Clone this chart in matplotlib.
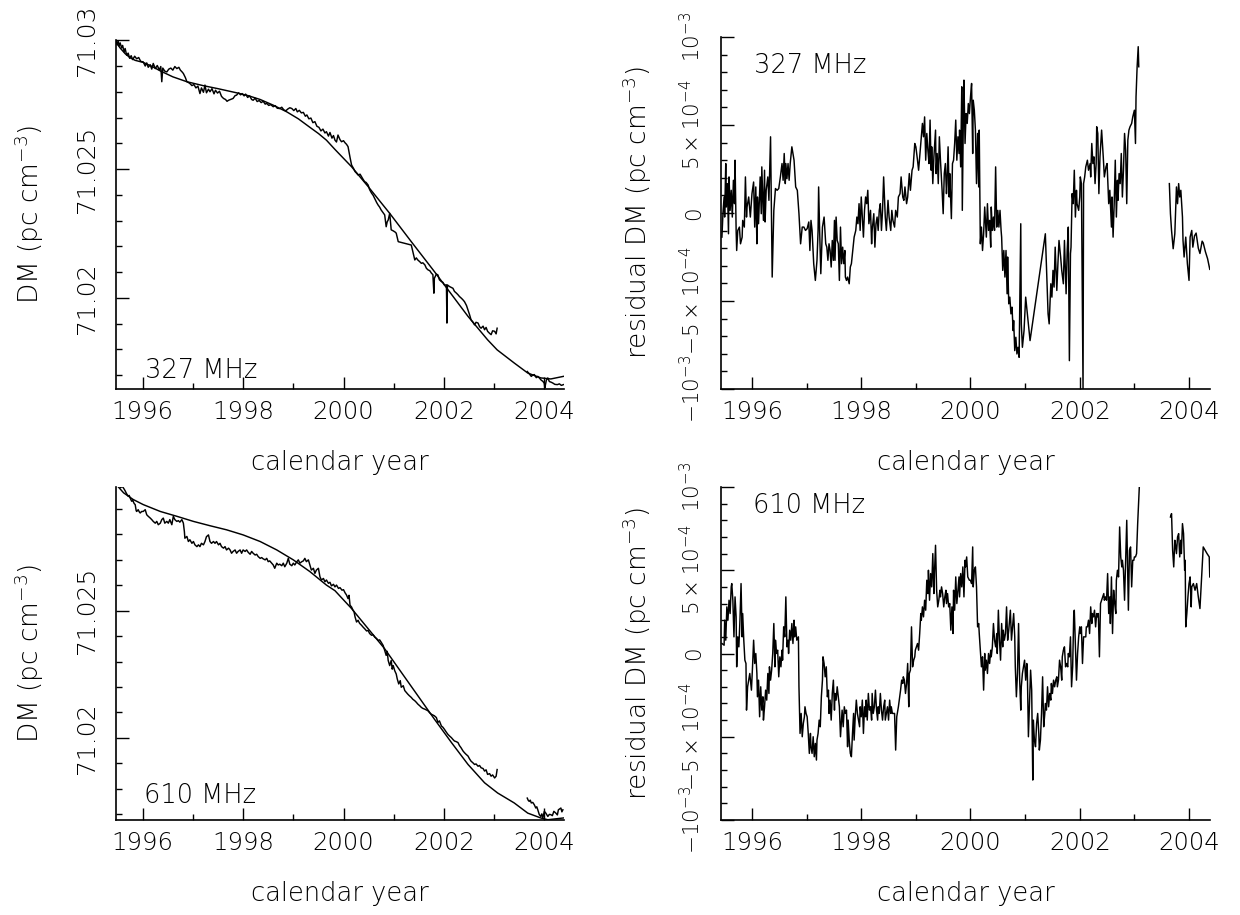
import matplotlib
matplotlib.use('Agg')
import matplotlib.pyplot as plt
from matplotlib.ticker import MultipleLocator, FixedLocator, FixedFormatter, FuncFormatter
import numpy as np

plt.rcParams['font.family'] = ['DejaVu Sans']
plt.rcParams['font.weight'] = 'light'
plt.rcParams['mathtext.fontset'] = 'custom'
plt.rcParams['mathtext.rm'] = 'DejaVu Sans:light'
plt.rcParams['mathtext.it'] = 'DejaVu Sans:light'

### DM values are stored as (DM - 71.0) in units of 1e-3 pc cm^-3
dm_base = 71.0
### residuals are stored in units of 1e-4 pc cm^-3

# 327 MHz DM (year, DM offset)
dm327 = [
    (1995.47, 30.00), (1995.49, 29.82), (1995.51, 29.97), (1995.53, 29.78), (1995.55, 29.90),
    (1995.58, 29.70), (1995.60, 29.80), (1995.63, 29.55), (1995.65, 29.68), (1995.68, 29.42),
    (1995.71, 29.50), (1995.74, 29.30), (1995.77, 29.40), (1995.80, 29.25), (1995.84, 29.38),
    (1995.88, 29.28), (1995.92, 29.33), (1995.96, 29.18), (1996.01, 29.16), (1996.05, 29.00),
    (1996.08, 29.12), (1996.11, 28.95), (1996.15, 29.05), (1996.18, 28.88), (1996.21, 29.10),
    (1996.25, 28.90), (1996.29, 29.02), (1996.33, 28.85), (1996.36, 28.98), (1996.38, 28.39),
    (1996.40, 28.92), (1996.44, 28.80), (1996.48, 28.77), (1996.52, 28.88), (1996.56, 28.92),
    (1996.60, 28.84), (1996.64, 28.98), (1996.68, 28.90), (1996.72, 28.95), (1996.75, 28.84),
    (1996.78, 28.78), (1996.81, 28.71), (1996.85, 28.55), (1996.88, 28.39), (1996.91, 28.36),
    (1996.94, 28.32), (1996.98, 28.24), (1997.02, 28.28), (1997.06, 28.15), (1997.10, 28.22),
    (1997.14, 27.93), (1997.17, 28.15), (1997.21, 27.98), (1997.24, 28.26), (1997.27, 27.96),
    (1997.31, 28.10), (1997.34, 28.00), (1997.38, 28.12), (1997.42, 27.92), (1997.45, 28.06),
    (1997.49, 27.95), (1997.53, 28.02), (1997.57, 27.82), (1997.61, 27.74), (1997.65, 27.70),
    (1997.68, 27.63), (1997.71, 27.67), (1997.75, 27.70), (1997.80, 27.74), (1997.84, 27.85),
    (1997.87, 27.87), (1997.91, 27.96), (1997.95, 27.88), (1997.98, 27.93), (1998.02, 27.84),
    (1998.05, 27.91), (1998.09, 27.78), (1998.13, 27.84), (1998.17, 27.70), (1998.20, 27.67),
    (1998.24, 27.75), (1998.28, 27.62), (1998.32, 27.66), (1998.36, 27.58), (1998.40, 27.63),
    (1998.44, 27.52), (1998.47, 27.55), (1998.51, 27.47), (1998.55, 27.50), (1998.60, 27.42),
    (1998.64, 27.46), (1998.68, 27.36), (1998.73, 27.35), (1998.77, 27.40), (1998.81, 27.30),
    (1998.85, 27.26), (1998.89, 27.33), (1998.93, 27.38), (1998.97, 27.35), (1999.01, 27.27),
    (1999.05, 27.35), (1999.08, 27.22), (1999.12, 27.28), (1999.16, 27.18), (1999.20, 27.20),
    (1999.24, 27.05), (1999.27, 27.10), (1999.31, 26.95), (1999.35, 26.98), (1999.39, 26.80),
    (1999.43, 26.84), (1999.47, 26.66), (1999.51, 26.62), (1999.55, 26.48), (1999.59, 26.55),
    (1999.63, 26.40), (1999.66, 26.45), (1999.70, 26.28), (1999.73, 26.42), (1999.77, 26.20),
    (1999.80, 26.30), (1999.83, 26.12), (1999.86, 26.05), (1999.89, 26.32), (1999.93, 26.14),
    (1999.96, 26.06), (2000.00, 26.10), (2000.03, 26.02), (2000.06, 25.96), (2000.09, 25.87),
    (2000.13, 25.45), (2000.16, 25.16), (2000.20, 25.02), (2000.23, 24.90), (2000.26, 24.84),
    (2000.29, 24.77), (2000.33, 24.80), (2000.36, 24.70), (2000.39, 24.60), (2000.42, 24.51),
    (2000.45, 24.48), (2000.49, 24.38), (2000.52, 24.20), (2000.56, 24.06), (2000.59, 23.98),
    (2000.62, 23.86), (2000.66, 23.70), (2000.69, 23.60), (2000.72, 23.52), (2000.75, 23.41),
    (2000.79, 23.30), (2000.82, 23.22), (2000.85, 22.76), (2000.87, 22.95), (2000.89, 23.02),
    (2000.92, 23.28), (2000.95, 22.64), (2000.99, 22.60), (2001.03, 22.55), (2001.05, 22.51),
    (2001.09, 22.18), (2001.35, 22.05), (2001.42, 21.47), (2001.45, 21.55), (2001.48, 21.47),
    (2001.52, 21.40), (2001.55, 21.34), (2001.58, 21.36), (2001.62, 21.28), (2001.65, 21.15),
    (2001.68, 21.09), (2001.72, 21.05), (2001.75, 20.96), (2001.78, 20.90), (2001.80, 20.18),
    (2001.81, 20.76), (2001.85, 20.92), (2001.88, 20.89), (2001.91, 20.70), (2001.95, 20.63),
    (2001.98, 20.60), (2002.01, 20.50), (2002.05, 20.50), (2002.06, 19.02), (2002.07, 20.50),
    (2002.11, 20.44), (2002.15, 20.40), (2002.18, 20.37), (2002.21, 20.25), (2002.25, 20.18),
    (2002.28, 20.12), (2002.31, 20.05), (2002.35, 19.98), (2002.38, 19.92), (2002.41, 19.85),
    (2002.45, 19.70), (2002.48, 19.53), (2002.51, 19.35), (2002.54, 19.15), (2002.58, 19.05),
    (2002.61, 18.95), (2002.64, 19.05), (2002.68, 19.02), (2002.71, 18.88), (2002.74, 18.82),
    (2002.78, 18.90), (2002.81, 18.76), (2002.84, 18.85), (2002.87, 18.70), (2002.91, 18.62),
    (2002.94, 18.57), (2002.97, 18.72), (2003.01, 18.70), (2003.04, 18.60), (2003.06, 18.82),
]
dm327_late = [
    (2003.66, 17.14), (2003.70, 17.05), (2003.74, 16.95), (2003.77, 17.00), (2003.80, 17.02),
    (2003.84, 16.90), (2003.87, 16.95), (2003.90, 16.89), (2003.94, 16.80), (2003.97, 16.76),
    (2004.00, 16.68), (2004.01, 16.50), (2004.04, 16.80), (2004.07, 16.89), (2004.10, 16.75),
    (2004.14, 16.72), (2004.17, 16.69), (2004.21, 16.64), (2004.26, 16.63), (2004.30, 16.66),
    (2004.34, 16.60), (2004.38, 16.63),
]
fit327 = [
    (1995.47, 29.92), (1995.55, 29.70), (1995.65, 29.48), (1995.75, 29.32), (1995.85, 29.22),
    (1996.01, 29.14), (1996.20, 28.97), (1996.35, 28.81), (1996.60, 28.58), (1996.88, 28.39),
    (1997.20, 28.24), (1997.50, 28.12), (1997.87, 27.96), (1998.10, 27.85), (1998.34, 27.70),
    (1998.60, 27.48), (1998.87, 27.22), (1999.10, 26.95), (1999.33, 26.62), (1999.50, 26.38),
    (1999.66, 26.12), (1999.83, 25.76), (2000.16, 25.09), (2000.49, 24.32), (2000.92, 23.28),
    (2001.35, 22.18), (2001.81, 21.02), (2002.01, 20.50), (2002.48, 19.28), (2002.87, 18.37),
    (2003.06, 17.98), (2003.40, 17.47), (2003.67, 17.08), (2003.93, 16.89), (2004.13, 16.85),
    (2004.38, 16.95),
]

# 610 MHz DM (year, DM offset)
dm610 = [
    (1995.47, 29.88), (1995.50, 29.95), (1995.52, 29.92), (1995.56, 29.82), (1995.59, 29.88),
    (1995.62, 29.80), (1995.65, 29.70), (1995.67, 29.62), (1995.69, 29.55), (1995.71, 29.49),
    (1995.73, 29.52), (1995.75, 29.42), (1995.78, 29.29), (1995.80, 29.35), (1995.81, 29.29),
    (1995.83, 29.20), (1995.85, 29.16), (1995.87, 28.92), (1995.88, 28.89), (1995.91, 28.96),
    (1995.93, 28.88), (1995.95, 28.83), (1995.98, 28.89), (1996.01, 28.89), (1996.05, 28.96),
    (1996.08, 28.76), (1996.11, 28.70), (1996.15, 28.63), (1996.18, 28.57), (1996.21, 28.50),
    (1996.25, 28.43), (1996.28, 28.50), (1996.31, 28.37), (1996.35, 28.43), (1996.38, 28.57),
    (1996.41, 28.63), (1996.44, 28.43), (1996.48, 28.50), (1996.51, 28.43), (1996.54, 28.57),
    (1996.58, 28.37), (1996.61, 28.70), (1996.64, 28.57), (1996.68, 28.50), (1996.71, 28.53),
    (1996.74, 28.47), (1996.78, 28.57), (1996.81, 28.43), (1996.83, 28.10), (1996.84, 27.84),
    (1996.88, 27.91), (1996.91, 27.71), (1996.94, 27.78), (1996.98, 27.64), (1997.01, 27.71),
    (1997.04, 27.58), (1997.08, 27.51), (1997.11, 27.58), (1997.14, 27.51), (1997.17, 27.64),
    (1997.21, 27.58), (1997.24, 27.71), (1997.27, 27.90), (1997.31, 27.97), (1997.34, 27.71),
    (1997.37, 27.64), (1997.41, 27.71), (1997.44, 27.64), (1997.47, 27.71), (1997.51, 27.58),
    (1997.54, 27.64), (1997.57, 27.51), (1997.61, 27.45), (1997.64, 27.51), (1997.67, 27.38),
    (1997.71, 27.45), (1997.74, 27.38), (1997.77, 27.25), (1997.80, 27.32), (1997.84, 27.38),
    (1997.87, 27.25), (1997.90, 27.32), (1997.94, 27.38), (1997.97, 27.25), (1998.00, 27.38),
    (1998.04, 27.32), (1998.07, 27.38), (1998.10, 27.29), (1998.14, 27.21), (1998.17, 27.32),
    (1998.20, 27.25), (1998.24, 27.18), (1998.27, 27.21), (1998.30, 27.12), (1998.34, 27.05),
    (1998.37, 27.08), (1998.40, 27.03), (1998.44, 26.99), (1998.47, 27.05), (1998.50, 26.92),
    (1998.53, 26.95), (1998.57, 26.86), (1998.60, 26.79), (1998.63, 26.66), (1998.67, 26.86),
    (1998.70, 26.79), (1998.73, 26.82), (1998.77, 26.76), (1998.80, 26.86), (1998.83, 26.72),
    (1998.87, 26.86), (1998.90, 27.05), (1998.93, 26.82), (1998.97, 26.76), (1999.00, 26.86),
    (1999.03, 26.79), (1999.07, 26.92), (1999.10, 26.99), (1999.13, 26.86), (1999.17, 26.92),
    (1999.20, 26.95), (1999.23, 27.05), (1999.26, 26.92), (1999.30, 26.99), (1999.33, 26.79),
    (1999.36, 26.59), (1999.40, 26.66), (1999.43, 26.46), (1999.46, 26.59), (1999.50, 26.66),
    (1999.53, 26.33), (1999.56, 26.20), (1999.60, 26.26), (1999.63, 26.13), (1999.66, 26.20),
    (1999.70, 26.07), (1999.73, 26.11), (1999.76, 25.97), (1999.80, 26.03), (1999.83, 25.93),
    (1999.86, 26.00), (1999.90, 25.87), (1999.93, 25.90), (1999.97, 25.80), (2000.00, 25.82),
    (2000.03, 25.70), (2000.06, 25.61), (2000.09, 25.47), (2000.11, 25.60), (2000.13, 25.21),
    (2000.16, 25.14), (2000.19, 25.01), (2000.21, 24.95), (2000.23, 24.75), (2000.26, 24.55),
    (2000.29, 24.62), (2000.32, 24.50), (2000.36, 24.42), (2000.39, 24.35), (2000.42, 24.29),
    (2000.46, 24.20), (2000.49, 24.22), (2000.52, 24.10), (2000.56, 24.03), (2000.59, 24.05),
    (2000.62, 23.96), (2000.66, 23.90), (2000.69, 23.83), (2000.72, 23.85), (2000.75, 23.76),
    (2000.79, 23.63), (2000.82, 23.43), (2000.85, 23.24), (2000.87, 23.40), (2000.89, 23.04),
    (2000.92, 22.84), (2000.95, 23.04), (2000.97, 22.70), (2000.99, 22.84), (2001.02, 22.64),
    (2001.05, 22.51), (2001.07, 22.32), (2001.10, 22.12), (2001.13, 22.25), (2001.15, 21.99),
    (2001.19, 22.05), (2001.22, 21.86), (2001.25, 21.79), (2001.28, 21.72), (2001.31, 21.66),
    (2001.35, 21.59), (2001.38, 21.52), (2001.42, 21.46), (2001.45, 21.40), (2001.48, 21.33),
    (2001.52, 21.26), (2001.55, 21.20), (2001.58, 21.16), (2001.62, 21.13), (2001.65, 21.10),
    (2001.68, 21.07), (2001.72, 20.98), (2001.75, 20.93), (2001.78, 20.90), (2001.81, 20.87),
    (2001.85, 20.80), (2001.88, 20.61), (2001.91, 20.67), (2001.95, 20.47), (2001.98, 20.42),
    (2002.01, 20.34), (2002.04, 20.25), (2002.08, 20.14), (2002.11, 20.08), (2002.15, 20.01),
    (2002.18, 19.94), (2002.21, 19.88), (2002.24, 19.86), (2002.28, 19.82), (2002.31, 19.70),
    (2002.34, 19.62), (2002.38, 19.49), (2002.41, 19.42), (2002.44, 19.36), (2002.48, 19.29),
    (2002.51, 19.18), (2002.54, 19.09), (2002.58, 19.02), (2002.61, 18.96), (2002.64, 18.98),
    (2002.68, 18.89), (2002.71, 18.92), (2002.74, 18.83), (2002.78, 18.80), (2002.81, 18.70),
    (2002.84, 18.75), (2002.87, 18.57), (2002.91, 18.60), (2002.94, 18.50), (2002.97, 18.55),
    (2003.01, 18.43), (2003.04, 18.50), (2003.06, 18.76),
]
dm610_late = [
    (2003.66, 17.64), (2003.68, 17.55), (2003.70, 17.51), (2003.72, 17.56), (2003.74, 17.45),
    (2003.77, 17.47), (2003.80, 17.38), (2003.83, 17.25), (2003.85, 17.30), (2003.87, 17.18),
    (2003.90, 16.99), (2003.93, 16.92), (2003.95, 17.02), (2003.97, 16.86), (2004.00, 17.12),
    (2004.03, 17.05), (2004.07, 16.92), (2004.10, 17.00), (2004.13, 16.99), (2004.16, 16.95),
    (2004.19, 17.12), (2004.23, 17.05), (2004.26, 16.98), (2004.28, 17.18), (2004.33, 17.25),
    (2004.35, 17.10), (2004.37, 17.18),
]
fit610 = [
    (1995.47, 29.95), (1995.62, 29.62), (1995.81, 29.36), (1996.01, 29.16), (1996.35, 28.89),
    (1996.68, 28.70), (1997.01, 28.50), (1997.34, 28.33), (1997.67, 28.17), (1998.00, 27.97),
    (1998.34, 27.71), (1998.67, 27.38), (1999.00, 26.99), (1999.33, 26.53), (1999.66, 26.00),
    (1999.83, 25.78), (2000.16, 25.08), (2000.49, 24.29), (2000.82, 23.50), (2001.15, 22.58),
    (2001.48, 21.66), (2001.81, 20.74), (2002.15, 19.82), (2002.48, 18.96), (2002.81, 18.24),
    (2003.07, 17.84), (2003.40, 17.45), (2003.67, 17.05), (2003.93, 16.86), (2004.07, 16.79),
    (2004.38, 16.86),
]

# 327 MHz residual DM (year, residual in 1e-4)
res327 = [
    (1995.45, -1.37), (1995.47, 0.06), (1995.49, 0.91), (1995.50, -0.23), (1995.52, 2.81),
    (1995.53, 0.34), (1995.55, 1.67), (1995.57, -1.18), (1995.58, 2.05), (1995.60, 0.15),
    (1995.62, 1.29), (1995.64, -0.23), (1995.66, 1.86), (1995.68, 0.53), (1995.69, 3.00),
    (1995.71, -0.99), (1995.72, -2.13), (1995.74, -0.99), (1995.77, -0.80), (1995.79, -1.75),
    (1995.82, -1.37), (1995.83, -0.42), (1995.86, -0.80), (1995.88, 2.05), (1995.90, -0.23),
    (1995.91, 0.34), (1995.94, 0.91), (1995.97, -0.23), (1996.00, 1.10), (1996.03, 1.76),
    (1996.05, -0.80), (1996.07, 1.48), (1996.09, -1.75), (1996.10, 0.91), (1996.12, -0.61),
    (1996.15, 2.05), (1996.17, -0.04), (1996.18, 2.62), (1996.21, -0.42), (1996.23, 2.43),
    (1996.24, -0.51), (1996.26, 1.29), (1996.29, 2.05), (1996.31, 0.72), (1996.34, 4.33),
    (1996.37, -3.64), (1996.40, 0.15), (1996.43, 1.39), (1996.46, 1.29), (1996.49, 1.39),
    (1996.52, 2.05), (1996.55, 2.81), (1996.57, 1.86), (1996.59, 3.38), (1996.61, 1.67),
    (1996.62, 2.81), (1996.64, 1.95), (1996.66, 2.81), (1996.68, 1.86), (1996.70, 2.81),
    (1996.73, 3.76), (1996.77, 3.00), (1996.80, 1.48), (1996.83, 1.29), (1996.86, -0.04),
    (1996.89, -1.75), (1996.92, -0.80), (1996.95, -0.80), (1996.98, -0.99), (1997.01, -0.89),
    (1997.04, -0.51), (1997.06, -2.13), (1997.08, -0.42), (1997.10, -0.99), (1997.13, -2.88),
    (1997.16, -3.83), (1997.19, -2.69), (1997.21, -0.99), (1997.22, 1.48), (1997.24, -1.18),
    (1997.26, -3.45), (1997.29, -0.80), (1997.32, -0.23), (1997.35, -1.75), (1997.37, -1.94),
    (1997.39, -2.69), (1997.41, -1.75), (1997.43, -2.13), (1997.45, -3.07), (1997.47, -1.56),
    (1997.49, -2.69), (1997.51, -0.42), (1997.52, -2.69), (1997.54, -0.23), (1997.56, -1.56),
    (1997.58, -1.75), (1997.60, -3.83), (1997.62, -0.80), (1997.64, -2.88), (1997.66, -1.94),
    (1997.68, -2.88), (1997.70, -2.13), (1997.71, -3.64), (1997.73, -3.83), (1997.75, -3.64),
    (1997.78, -4.02), (1997.80, -3.07), (1997.82, -2.88), (1997.85, -1.94), (1997.87, -1.37),
    (1997.90, -0.99), (1997.92, -0.23), (1997.94, -0.61), (1997.96, 0.53), (1997.98, -0.99),
    (1998.00, 0.91), (1998.02, -0.23), (1998.04, -1.37), (1998.06, 0.15), (1998.08, 0.91),
    (1998.10, 0.53), (1998.12, 1.29), (1998.14, -0.61), (1998.17, 0.15), (1998.19, -1.75),
    (1998.20, -0.99), (1998.23, -0.04), (1998.25, -1.94), (1998.27, -0.61), (1998.29, -0.23),
    (1998.31, -0.99), (1998.33, 0.15), (1998.35, 0.53), (1998.37, -0.99), (1998.39, 0.15),
    (1998.41, 2.05), (1998.44, -0.23), (1998.46, -0.99), (1998.49, 0.72), (1998.51, -0.23),
    (1998.54, -0.99), (1998.56, 0.15), (1998.58, -0.42), (1998.61, -0.80), (1998.63, 0.15),
    (1998.66, -0.23), (1998.68, 0.91), (1998.71, 1.10), (1998.73, 2.05), (1998.76, 0.91),
    (1998.78, 0.72), (1998.80, 1.48), (1998.83, 0.53), (1998.85, 0.91), (1998.88, 2.24),
    (1998.90, 1.29), (1998.93, 2.43), (1998.95, 2.62), (1998.98, 3.95), (1999.00, 3.76),
    (1999.03, 3.00), (1999.05, 2.43), (1999.07, 3.19), (1999.10, 4.33), (1999.12, 5.09),
    (1999.14, 4.33), (1999.16, 5.46), (1999.18, 3.00), (1999.20, 4.52), (1999.22, 3.57),
    (1999.24, 2.81), (1999.26, 5.28), (1999.28, 2.43), (1999.29, 3.76), (1999.31, 1.67),
    (1999.33, 3.19), (1999.36, 4.71), (1999.37, 2.24), (1999.39, 3.38), (1999.41, 1.67),
    (1999.43, 4.33), (1999.45, 3.00), (1999.48, 1.29), (1999.50, -0.04), (1999.52, 2.24),
    (1999.54, 2.81), (1999.56, 1.10), (1999.57, 1.67), (1999.59, 3.76), (1999.61, 0.91),
    (1999.62, 2.24), (1999.65, -0.32), (1999.67, 2.81), (1999.69, 3.00), (1999.71, 3.95),
    (1999.73, 5.28), (1999.75, 3.00), (1999.77, 4.33), (1999.79, 3.38), (1999.80, 4.71),
    (1999.82, 2.62), (1999.84, 7.17), (1999.85, 0.15), (1999.87, 5.65), (1999.88, 7.55),
    (1999.90, 3.95), (1999.92, 5.65), (1999.94, 5.09), (1999.96, 6.22), (1999.98, 5.65),
    (2000.00, 6.60), (2000.02, 7.36), (2000.04, 3.38), (2000.05, 6.41), (2000.07, 5.84),
    (2000.09, 4.71), (2000.11, 1.67), (2000.13, 4.52), (2000.15, 1.48), (2000.16, 4.71),
    (2000.18, -1.75), (2000.20, -0.80), (2000.22, -2.13), (2000.24, -1.18), (2000.26, 0.34),
    (2000.27, -0.23), (2000.29, -1.37), (2000.31, 0.53), (2000.33, -0.99), (2000.35, -0.42),
    (2000.37, -1.94), (2000.38, 0.34), (2000.40, -0.99), (2000.42, -0.23), (2000.44, -0.99),
    (2000.46, 2.62), (2000.48, -0.80), (2000.50, 0.15), (2000.52, -0.80), (2000.54, 0.15),
    (2000.56, -0.99), (2000.57, -1.37), (2000.59, -3.26), (2000.61, -2.13), (2000.63, -3.64),
    (2000.65, -2.13), (2000.67, -4.59), (2000.68, -2.50), (2000.70, -5.16), (2000.72, -4.78),
    (2000.74, -5.73), (2000.76, -5.35), (2000.78, -6.68), (2000.79, -6.11), (2000.81, -7.82),
    (2000.83, -7.06), (2000.85, -8.01), (2000.87, -7.63), (2000.89, -8.20), (2000.90, -5.73),
    (2000.92, -0.61), (2000.93, -6.30), (2000.95, -7.63), (2000.98, -6.68), (2001.01, -4.78),
    (2001.09, -7.25), (2001.37, -1.18), (2001.42, -5.73), (2001.44, -6.30), (2001.47, -4.02),
    (2001.49, -4.78), (2001.51, -3.26), (2001.53, -4.21), (2001.55, -1.94), (2001.58, -4.40),
    (2001.60, -2.88), (2001.62, -1.56), (2001.65, -2.50), (2001.67, -3.26), (2001.70, -4.02),
    (2001.72, -1.56), (2001.75, -4.59), (2001.77, -2.13), (2001.79, -0.80), (2001.81, -8.39),
    (2001.83, -2.31), (2001.84, -1.94), (2001.86, 1.10), (2001.88, 0.53), (2001.90, 2.43),
    (2001.92, -0.23), (2001.94, 1.29), (2001.95, 0.53), (2001.98, 0.15), (2002.00, 0.91),
    (2002.01, 2.05), (2002.03, 1.67), (2002.06, -10.0), (2002.07, 1.67), (2002.09, 2.05),
    (2002.11, 2.62), (2002.14, 3.00), (2002.16, 2.43), (2002.19, 2.81), (2002.20, 2.05),
    (2002.22, 3.95), (2002.24, 2.81), (2002.26, 3.19), (2002.28, 1.67), (2002.30, 2.81),
    (2002.31, 4.90), (2002.33, 4.52), (2002.35, 1.10), (2002.37, 3.19), (2002.40, 4.71),
    (2002.43, 3.19), (2002.45, 2.05), (2002.48, 2.62), (2002.50, 2.81), (2002.53, 0.53),
    (2002.55, 1.29), (2002.58, -0.80), (2002.59, 0.91), (2002.61, -1.37), (2002.63, 0.53),
    (2002.65, 3.00), (2002.67, -0.23), (2002.69, 1.86), (2002.70, 0.72), (2002.72, 2.24),
    (2002.74, 1.67), (2002.76, 3.38), (2002.78, 0.91), (2002.80, 2.43), (2002.82, 4.52),
    (2002.84, 3.57), (2002.86, 0.53), (2002.88, 4.14), (2002.90, 4.71), (2002.92, 4.90),
    (2002.95, 5.09), (2002.97, 5.46), (2003.00, 5.84), (2003.02, 3.95), (2003.03, 6.60),
    (2003.05, 8.31), (2003.07, 9.45), (2003.08, 8.31),
]
res327_late = [
    (2003.64, 1.67), (2003.66, -0.04), (2003.68, -0.99), (2003.71, -2.03), (2003.74, -1.18),
    (2003.77, 1.48), (2003.79, 0.53), (2003.81, 1.67), (2003.83, 0.91), (2003.85, 1.29),
    (2003.88, -0.23), (2003.89, -1.56), (2003.91, -2.50), (2003.94, -1.37), (2003.97, -2.88),
    (2004.00, -3.83), (2004.02, -1.37), (2004.05, -0.99), (2004.07, -1.94), (2004.10, -1.30),
    (2004.13, -1.14), (2004.17, -2.00), (2004.20, -2.30), (2004.24, -1.60), (2004.26, -1.70),
    (2004.30, -2.20), (2004.34, -2.60), (2004.38, -3.20),
]

# 610 MHz residual DM (year, residual in 1e-4)
res610 = [
    (1995.45, 0.6), (1995.49, 0.5), (1995.50, 2.0), (1995.52, 0.8), (1995.54, 2.8),
    (1995.56, 2.0), (1995.58, 3.2), (1995.60, 2.4), (1995.62, 4.0), (1995.63, 4.2),
    (1995.65, 3.2), (1995.67, 1.0), (1995.69, 3.4), (1995.71, 2.2), (1995.72, -0.8),
    (1995.74, 1.0), (1995.76, 0.4), (1995.78, 2.0), (1995.80, 4.2), (1995.82, 1.0),
    (1995.83, 2.4), (1995.85, 0.8), (1995.87, -0.4), (1995.89, -0.6), (1995.90, -3.4),
    (1995.92, -2.0), (1995.96, -1.2), (1995.99, -2.2), (1996.01, -0.8), (1996.03, 0.8),
    (1996.05, -0.6), (1996.07, 0.0), (1996.09, -1.2), (1996.10, -2.6), (1996.12, -1.6),
    (1996.14, -3.8), (1996.16, -2.0), (1996.18, -3.4), (1996.20, -2.6), (1996.21, -4.0),
    (1996.23, -3.2), (1996.25, -2.2), (1996.27, -2.8), (1996.29, -1.2), (1996.31, -2.4),
    (1996.32, -0.8), (1996.34, -1.6), (1996.36, -1.0), (1996.38, 0.0), (1996.40, 1.8),
    (1996.42, -0.8), (1996.43, 0.8), (1996.45, 0.0), (1996.47, 0.2), (1996.49, -1.4),
    (1996.51, -0.2), (1996.53, -0.8), (1996.55, 0.2), (1996.56, -0.4), (1996.58, 1.6),
    (1996.60, 1.0), (1996.62, 3.4), (1996.64, 0.4), (1996.66, 0.8), (1996.67, 0.0),
    (1996.69, 1.4), (1996.71, 0.8), (1996.73, 1.8), (1996.75, 0.6), (1996.77, 2.0),
    (1996.78, 1.0), (1996.80, 1.6), (1996.82, 0.8), (1996.85, 1.0), (1996.86, -2.0),
    (1996.88, -4.8), (1996.90, -3.6), (1996.92, -5.0), (1996.94, -4.2), (1996.96, -3.8),
    (1996.97, -3.2), (1996.99, -3.6), (1997.01, -3.8), (1997.03, -4.8), (1997.05, -6.0),
    (1997.07, -4.8), (1997.08, -5.6), (1997.10, -6.0), (1997.12, -5.0), (1997.14, -6.2),
    (1997.16, -5.4), (1997.18, -6.4), (1997.19, -5.2), (1997.21, -4.8), (1997.23, -4.0),
    (1997.25, -4.4), (1997.27, -2.6), (1997.29, -1.6), (1997.30, -0.2), (1997.32, -0.6),
    (1997.34, -1.4), (1997.36, -0.8), (1997.38, -2.6), (1997.40, -2.2), (1997.41, -3.6),
    (1997.43, -2.8), (1997.45, -4.0), (1997.47, -2.4), (1997.49, -1.6), (1997.51, -3.4),
    (1997.52, -2.4), (1997.54, -2.8), (1997.56, -2.0), (1997.58, -2.6), (1997.60, -3.2),
    (1997.62, -5.0), (1997.64, -4.0), (1997.65, -3.4), (1997.67, -4.4), (1997.69, -3.2),
    (1997.71, -3.6), (1997.73, -3.4), (1997.75, -5.6), (1997.76, -4.0), (1997.78, -5.2),
    (1997.80, -6.0), (1997.82, -6.2), (1997.84, -4.8), (1997.86, -3.6), (1997.87, -5.2),
    (1997.89, -3.8), (1997.91, -2.8), (1997.93, -3.6), (1997.97, -4.4), (1997.98, -3.2),
    (1998.00, -3.8), (1998.02, -2.8), (1998.04, -4.8), (1998.06, -3.2), (1998.08, -3.8),
    (1998.09, -2.8), (1998.11, -4.0), (1998.13, -2.4), (1998.15, -3.4), (1998.17, -3.2),
    (1998.19, -4.0), (1998.20, -2.4), (1998.22, -3.6), (1998.24, -3.2), (1998.26, -2.2),
    (1998.28, -3.4), (1998.30, -4.0), (1998.31, -3.2), (1998.33, -3.6), (1998.35, -2.4),
    (1998.37, -3.4), (1998.39, -4.0), (1998.41, -3.2), (1998.43, -2.8), (1998.44, -4.0),
    (1998.46, -3.6), (1998.48, -3.2), (1998.50, -4.0), (1998.52, -2.8), (1998.54, -3.6),
    (1998.55, -3.2), (1998.57, -3.6), (1998.61, -3.6), (1998.63, -5.8), (1998.65, -3.8),
    (1998.68, -3.2), (1998.72, -2.2), (1998.74, -1.6), (1998.76, -1.8), (1998.77, -1.4),
    (1998.79, -1.6), (1998.81, -2.4), (1998.83, -1.8), (1998.85, -0.6), (1998.87, -3.2),
    (1998.88, -1.2), (1998.90, -1.0), (1998.92, 1.6), (1998.94, -0.8), (1998.96, -0.4),
    (1998.98, -0.2), (1998.99, 0.2), (1999.01, 0.4), (1999.03, 0.6), (1999.05, 0.2),
    (1999.07, 1.2), (1999.09, 2.4), (1999.10, 2.0), (1999.12, 2.8), (1999.14, 2.2),
    (1999.16, 3.2), (1999.18, 2.6), (1999.20, 4.4), (1999.22, 3.6), (1999.23, 5.0),
    (1999.25, 3.2), (1999.27, 4.8), (1999.29, 4.0), (1999.31, 6.0), (1999.33, 3.6),
    (1999.34, 4.8), (1999.36, 6.5), (1999.38, 3.8), (1999.40, 2.8), (1999.42, 3.2),
    (1999.44, 3.8), (1999.45, 3.4), (1999.47, 4.0), (1999.49, 3.6), (1999.51, 2.8),
    (1999.53, 3.4), (1999.55, 3.8), (1999.56, 3.0), (1999.58, 3.6), (1999.60, 2.8),
    (1999.62, 3.0), (1999.64, 1.4), (1999.66, 2.8), (1999.68, 1.2), (1999.69, 3.8),
    (1999.71, 2.6), (1999.73, 4.6), (1999.75, 3.0), (1999.77, 3.8), (1999.79, 4.6),
    (1999.80, 3.4), (1999.82, 4.8), (1999.84, 4.0), (1999.86, 5.2), (1999.88, 3.4),
    (1999.90, 5.6), (1999.91, 5.2), (1999.93, 5.8), (1999.95, 4.6), (1999.98, 4.4),
    (2000.00, 4.4), (2000.02, 4.2), (2000.04, 6.4), (2000.05, 4.0), (2000.07, 5.0),
    (2000.09, 5.2), (2000.11, 4.0), (2000.13, 1.6), (2000.15, 1.8), (2000.16, 1.2),
    (2000.18, 0.2), (2000.20, -0.8), (2000.22, -0.2), (2000.24, -2.2), (2000.26, 0.0),
    (2000.27, -1.0), (2000.29, -0.4), (2000.31, -1.2), (2000.33, 0.0), (2000.35, -0.6),
    (2000.37, 0.2), (2000.38, -0.2), (2000.40, 0.4), (2000.42, 1.8), (2000.44, 0.8),
    (2000.46, 0.4), (2000.48, 1.2), (2000.49, 0.0), (2000.51, 2.6), (2000.53, 0.8),
    (2000.55, -0.4), (2000.57, 1.8), (2000.59, 0.4), (2000.60, 1.4), (2000.62, 0.8),
    (2000.64, 1.2), (2000.66, 2.8), (2000.68, 0.8), (2000.70, 1.4), (2000.71, 1.8),
    (2000.73, 2.6), (2000.75, 0.8), (2000.77, 1.6), (2000.79, 2.4), (2000.81, 1.0),
    (2000.82, -0.8), (2000.84, -2.6), (2000.86, -1.2), (2000.88, 1.8), (2000.90, -1.6),
    (2000.92, -3.4), (2000.93, -2.0), (2000.95, -1.2), (2000.97, -0.8), (2000.99, -0.4),
    (2001.01, -1.6), (2001.03, -0.6), (2001.04, -1.0), (2001.06, -5.0), (2001.08, -3.0),
    (2001.10, -1.0), (2001.12, -2.2), (2001.14, -7.6), (2001.15, -4.0), (2001.17, -5.2),
    (2001.19, -5.6), (2001.21, -4.2), (2001.23, -3.6), (2001.25, -4.8), (2001.26, -5.8),
    (2001.28, -5.2), (2001.30, -3.6), (2001.32, -1.4), (2001.34, -4.4), (2001.36, -3.6),
    (2001.37, -3.0), (2001.39, -3.4), (2001.41, -2.0), (2001.43, -3.2), (2001.45, -2.4),
    (2001.47, -2.8), (2001.48, -1.8), (2001.50, -2.4), (2001.52, -1.6), (2001.54, -2.0),
    (2001.56, -1.6), (2001.58, -1.4), (2001.59, -2.0), (2001.61, -1.6), (2001.63, -0.4),
    (2001.65, -0.8), (2001.67, -1.6), (2001.68, -0.2), (2001.70, 0.2), (2001.72, 0.4),
    (2001.74, -0.8), (2001.76, -0.6), (2001.78, -0.8), (2001.79, 0.0), (2001.81, -0.2),
    (2001.83, 1.0), (2001.85, -2.0), (2001.87, -0.8), (2001.89, 2.4), (2001.90, 2.6),
    (2001.92, 0.4), (2001.94, -1.6), (2001.96, 0.0), (2001.98, 1.0), (2002.00, 1.6),
    (2002.01, 1.2), (2002.03, 1.6), (2002.05, -0.6), (2002.07, 1.0), (2002.09, 1.0),
    (2002.11, 1.0), (2002.12, 1.6), (2002.14, 1.6), (2002.16, 2.0), (2002.18, 1.2),
    (2002.20, 2.8), (2002.22, 1.8), (2002.23, 2.4), (2002.25, 2.2), (2002.27, 2.6),
    (2002.29, 1.6), (2002.31, 2.4), (2002.33, 2.2), (2002.34, 2.4), (2002.36, -0.2),
    (2002.38, 3.0), (2002.40, 3.2), (2002.42, 3.4), (2002.44, 3.6), (2002.45, 3.2),
    (2002.47, 3.4), (2002.49, 3.2), (2002.51, 4.8), (2002.53, 2.4), (2002.55, 3.4),
    (2002.56, 1.8), (2002.58, 4.6), (2002.60, 1.2), (2002.62, 3.8), (2002.64, 3.0),
    (2002.66, 2.4), (2002.67, 4.4), (2002.69, 5.0), (2002.71, 4.6), (2002.73, 7.6),
    (2002.75, 5.8), (2002.77, 5.2), (2002.78, 5.6), (2002.80, 5.0), (2002.82, 3.2),
    (2002.84, 5.6), (2002.86, 8.0), (2002.88, 4.4), (2002.89, 2.6), (2002.91, 6.2),
    (2002.93, 6.4), (2002.95, 4.0), (2002.97, 5.6), (2002.99, 5.6), (2003.00, 5.8),
    (2003.02, 5.8), (2003.04, 6.0), (2003.06, 7.8), (2003.08, 9.2), (2003.09, 10.0),
]
res610_late = [
    (2003.66, 8.2), (2003.68, 8.4), (2003.70, 6.2), (2003.72, 5.2), (2003.74, 6.8),
    (2003.75, 6.6), (2003.77, 6.0), (2003.79, 7.0), (2003.81, 7.2), (2003.83, 5.8),
    (2003.85, 6.8), (2003.86, 6.0), (2003.88, 7.8), (2003.90, 7.2), (2003.92, 5.0),
    (2003.93, 5.6), (2003.94, 1.6), (2003.96, 2.4), (2003.98, 3.4), (2004.00, 4.2),
    (2004.02, 4.6), (2004.04, 2.8), (2004.05, 4.0), (2004.08, 4.2), (2004.11, 3.8),
    (2004.14, 4.2), (2004.17, 3.4), (2004.20, 2.7), (2004.26, 6.4), (2004.33, 6.0),
    (2004.37, 5.8), (2004.38, 4.6),
]

year_ticks = [1996, 1998, 2000, 2002, 2004]
year_labels = ['1996', '1998', '2000', '2002', '2004']
dm_ticks = [71.02, 71.025, 71.03]
res_ticks = [-1e-3, -5e-4, 0.0, 5e-4, 1e-3]
res_labels = [r'$-10^{-3}$', r'$-5\times10^{-4}$', '0', r'$5\times10^{-4}$', r'$10^{-3}$']

W, H = 1240.0, 915.0
FS_X = 17.5    # x tick labels
FS_DM = 18     # DM tick labels
FS_RES = 15.5  # residual tick labels
FS_TXT = 18.5  # panel texts and axis titles
FS_Y = 19      # rotated axis titles
fig = plt.figure(figsize=(12.4, 9.15), dpi=100)


def add_axes_px(left, top, right, bottom):
    return fig.add_axes([left / W, 1 - bottom / H, (right - left) / W, (bottom - top) / H])


def xy(pairs, scale, base=0.0):
    a = np.array(pairs, dtype=float)
    return a[:, 0], base + a[:, 1] * scale


def style(ax, xlim, ysize):
    for s in ['top', 'right']:
        ax.spines[s].set_visible(False)
    for s in ['left', 'bottom']:
        ax.spines[s].set_linewidth(1.2)
    ax.set_xlim(*xlim)
    ax.xaxis.set_major_locator(FixedLocator(year_ticks))
    ax.xaxis.set_major_formatter(FixedFormatter(year_labels))
    ax.xaxis.set_minor_locator(MultipleLocator(1))
    ax.tick_params(which='both', direction='in', top=False, right=False, width=1.0)
    ax.tick_params(which='major', length=9)
    ax.tick_params(which='minor', length=4.5)
    ax.tick_params(axis='x', pad=8, labelsize=FS_X)
    ax.tick_params(axis='y', pad=12, labelsize=ysize, labelrotation=90)


def dm_fmt(v, pos):
    return ('%.3f' % v).rstrip('0')


panels = [
    # axes box (px), series, late series, fit, ylim, label, label pos
    ((116, 40, 564, 389), dm327, dm327_late, fit327, (71.01646, 71.03001), '327 MHz', (0.065, 0.032)),
    ((116, 487, 564, 820), dm610, dm610_late, fit610, (71.01678, 71.02985), '610 MHz', (0.062, 0.05)),
]
for box, d, dl, fit, ylim, lab, lpos in panels:
    ax = add_axes_px(*box)
    for series in (d, dl, fit):
        x, y = xy(series, 1e-3, dm_base)
        ax.plot(x, y, color='black', lw=1.05)
    style(ax, (1995.468, 2004.392), FS_DM)
    ax.set_ylim(*ylim)
    ax.yaxis.set_major_locator(FixedLocator(dm_ticks))
    ax.yaxis.set_major_formatter(FuncFormatter(dm_fmt))
    ax.yaxis.set_minor_locator(MultipleLocator(0.001))
    plt.setp(ax.get_yticklabels(), va='center')
    ax.text(lpos[0], lpos[1], lab, transform=ax.transAxes, fontsize=FS_TXT, va='baseline', ha='left')
    cy = (box[1] + box[3]) / 2.0
    fig.text(29 / W, 1 - cy / H, 'DM (pc cm$^{-3}$)', rotation=90, ha='center', va='center', fontsize=FS_Y)
    fig.text((box[0] + box[2]) / 2.0 / W, 1 - (box[3] + 73) / H, 'calendar year', ha='center', va='center', fontsize=FS_TXT)

rpanels = [
    ((721, 37, 1210, 389), res327, res327_late, '327 MHz', (0.067, 0.898)),
    ((721, 487, 1210, 820), res610, res610_late, '610 MHz', (0.065, 0.922)),
]
for box, d, dl, lab, lpos in rpanels:
    ax = add_axes_px(*box)
    for series in (d, dl):
        x, y = xy(series, 1e-4)
        ax.plot(x, y, color='black', lw=1.05)
    style(ax, (1995.433, 2004.384), FS_RES)
    ax.set_ylim(-1e-3, 1e-3)
    ax.yaxis.set_major_locator(FixedLocator(res_ticks))
    ax.yaxis.set_major_formatter(FixedFormatter(res_labels))
    ax.yaxis.set_minor_locator(MultipleLocator(1e-4))
    plt.setp(ax.get_yticklabels(), va='center')
    ax.text(lpos[0], lpos[1], lab, transform=ax.transAxes, fontsize=FS_TXT, va='baseline', ha='left')
    cy = (box[1] + box[3]) / 2.0
    fig.text(637 / W, 1 - cy / H, 'residual DM (pc cm$^{-3}$)', rotation=90, ha='center', va='center', fontsize=FS_Y)
    fig.text((box[0] + box[2]) / 2.0 / W, 1 - (box[3] + 73) / H, 'calendar year', ha='center', va='center', fontsize=FS_TXT)

fig.savefig('out.png', dpi=100)
